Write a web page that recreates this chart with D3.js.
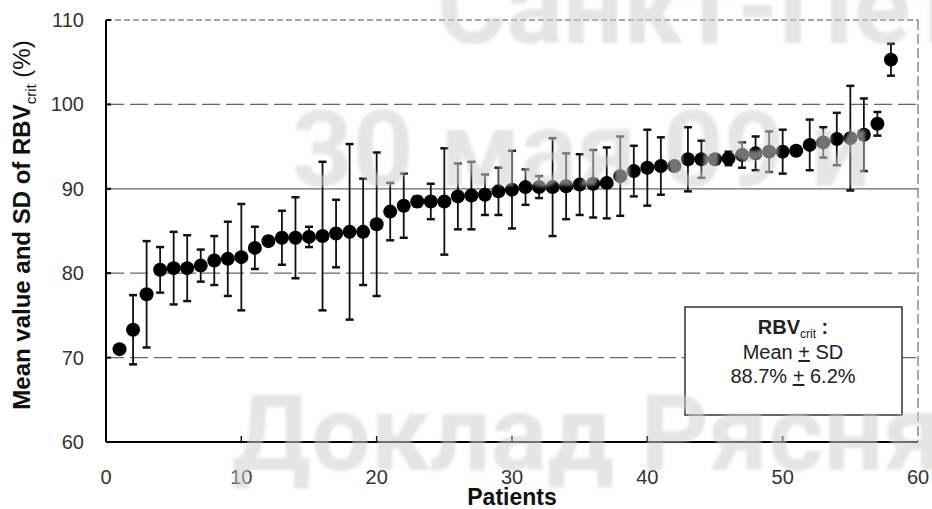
<!DOCTYPE html>
<html lang="en">
<head>
<meta charset="utf-8" />
<title>RBV crit per patient</title>
<script src="https://d3js.org/d3.v7.min.js"></script>
<style>
    body { margin: 0; background: #fff; }
    svg { display: block; }
</style>
</head>
<body>
<script>

    var w = 932;
    var h = 509;

    // mean and SD of RBVcrit (%) per patient, sorted by mean
    var patients = d3.range(1, 59);
    var means = [71.0, 73.3, 77.5, 80.4, 80.6, 80.6, 80.9, 81.5, 81.7, 81.9,
        83.0, 83.8, 84.2, 84.2, 84.3, 84.4, 84.7, 84.9, 84.9, 85.8,
        87.3, 88.0, 88.5, 88.5, 88.5, 89.1, 89.2, 89.3, 89.7, 89.9,
        90.2, 90.2, 90.2, 90.3, 90.5, 90.6, 90.7, 91.5, 92.1, 92.5,
        92.7, 92.7, 93.5, 93.5, 93.5, 93.6, 94.0, 94.2, 94.4, 94.4,
        94.5, 95.2, 95.5, 95.9, 96.0, 96.4, 97.7, 105.3];
    var sds = [0.3, 4.1, 6.3, 2.7, 4.3, 3.9, 1.9, 2.9, 4.4, 6.3,
        2.5, 0.5, 3.2, 4.8, 1.2, 8.8, 4.0, 10.4, 6.3, 8.5,
        3.4, 3.8, 0.6, 2.1, 6.3, 3.9, 4.0, 2.4, 2.8, 4.6,
        2.1, 1.3, 5.8, 3.9, 3.6, 4.0, 4.2, 4.7, 3.0, 4.5,
        3.4, 0.4, 3.8, 2.2, 0.4, 0.8, 1.5, 2.0, 2.4, 2.6,
        0.4, 3.0, 1.8, 3.1, 6.2, 4.3, 1.4, 1.9];

    var xTicks = [0, 10, 20, 30, 40, 50, 60];
    var yTicks = [60, 70, 80, 90, 100, 110];
    var gridValues = [70, 80, 90, 100];
    var legendLines = ["Mean ", "88.7% "];
    var watermark = ["Санкт-Петербург", "30 мая 09 и", "Доклад Рясня"];

    var data = patients.map(function (p, i) {
        return { p: p, m: means[i], sd: sds[i] };
    });

    var svg = d3.select("body")
        .append("svg")
        .attr("width", w)
        .attr("height", h);

    svg.append("defs")
        .append("filter")
        .attr("id", "soft")
        .append("feGaussianBlur")
        .attr("stdDeviation", 1.4);

    var xScale = d3.scaleLinear().domain([0, 60]).range([106, 918]);
    var yScale = d3.scaleLinear().domain([60, 110]).range([442, 20]);

    var font = "'Liberation Sans', Arial, sans-serif";

    // grid lines
    svg.selectAll("line.grid")
        .data(gridValues)
        .enter()
        .append("line")
        .attr("class", "grid")
        .attr("x1", xScale(0))
        .attr("x2", xScale(60))
        .attr("y1", function (d) { return yScale(d); })
        .attr("y2", function (d) { return yScale(d); })
        .attr("stroke", "#666")
        .attr("stroke-width", 1.3)
        .attr("stroke-dasharray", function (d) { return d == 90 ? null : "18,6"; });

    // top and right frame (light)
    svg.append("line")
        .attr("x1", xScale(0)).attr("x2", xScale(60))
        .attr("y1", yScale(110)).attr("y2", yScale(110))
        .attr("stroke", "#888").attr("stroke-width", 1.3)
        .attr("stroke-dasharray", "6,3");
    svg.append("line")
        .attr("x1", xScale(60)).attr("x2", xScale(60))
        .attr("y1", yScale(110)).attr("y2", yScale(60))
        .attr("stroke", "#777").attr("stroke-width", 1.3)
        .attr("stroke-dasharray", "10,4");

    // legend box
    var lx = 685, ly = 307;
    svg.append("rect")
        .attr("x", lx).attr("y", ly)
        .attr("width", 217).attr("height", 108)
        .attr("fill", "#fff")
        .attr("stroke", "#333")
        .attr("stroke-width", 1.5);

    var lt = svg.append("g")
        .attr("font-family", font)
        .attr("font-size", "20px")
        .attr("fill", "#222")
        .attr("text-anchor", "middle");

    var t1 = lt.append("text").attr("x", lx + 108).attr("y", ly + 27);
    t1.append("tspan").attr("font-weight", "bold").text("RBV");
    t1.append("tspan").attr("font-size", "12px").attr("dy", 4).text("crit");
    t1.append("tspan").attr("font-weight", "bold").attr("dy", -4).text(" :");

    var t2 = lt.append("text").attr("x", lx + 108).attr("y", ly + 52);
    t2.append("tspan").text(legendLines[0]);
    t2.append("tspan").attr("text-decoration", "underline").text("+");
    t2.append("tspan").text(" SD");

    var t3 = lt.append("text").attr("x", lx + 108).attr("y", ly + 76);
    t3.append("tspan").text(legendLines[1]);
    t3.append("tspan").attr("text-decoration", "underline").text("+");
    t3.append("tspan").text(" 6.2%");

    // error bars
    var bars = svg.selectAll("g.bar")
        .data(data)
        .enter()
        .append("g")
        .attr("class", "bar")
        .attr("stroke", "#111")
        .attr("stroke-width", 1.8);

    bars.append("line")
        .attr("x1", function (d) { return xScale(d.p); })
        .attr("x2", function (d) { return xScale(d.p); })
        .attr("y1", function (d) { return yScale(d.m + d.sd); })
        .attr("y2", function (d) { return yScale(d.m - d.sd); });

    bars.append("line")
        .attr("x1", function (d) { return xScale(d.p) - 4; })
        .attr("x2", function (d) { return xScale(d.p) + 4; })
        .attr("y1", function (d) { return yScale(d.m + d.sd); })
        .attr("y2", function (d) { return yScale(d.m + d.sd); })
        .attr("stroke-width", 2.5);

    bars.append("line")
        .attr("x1", function (d) { return xScale(d.p) - 4; })
        .attr("x2", function (d) { return xScale(d.p) + 4; })
        .attr("y1", function (d) { return yScale(d.m - d.sd); })
        .attr("y2", function (d) { return yScale(d.m - d.sd); })
        .attr("stroke-width", 2.5);

    svg.selectAll("circle")
        .data(data)
        .enter()
        .append("circle")
        .attr("cx", function (d) { return xScale(d.p); })
        .attr("cy", function (d) { return yScale(d.m); })
        .attr("r", 7)
        .attr("fill", "#000");

    // axes
    svg.append("line")
        .attr("x1", xScale(0)).attr("x2", xScale(0))
        .attr("y1", yScale(110)).attr("y2", yScale(60))
        .attr("stroke", "#000").attr("stroke-width", 2);
    svg.append("line")
        .attr("x1", xScale(0)).attr("x2", xScale(60))
        .attr("y1", yScale(60)).attr("y2", yScale(60))
        .attr("stroke", "#000").attr("stroke-width", 2);

    svg.selectAll("line.ytick")
        .data(yTicks)
        .enter()
        .append("line")
        .attr("class", "ytick")
        .attr("x1", xScale(0))
        .attr("x2", xScale(0) + 5)
        .attr("y1", function (d) { return yScale(d); })
        .attr("y2", function (d) { return yScale(d); })
        .attr("stroke", "#000")
        .attr("stroke-width", 2);

    svg.selectAll("line.xtick")
        .data(xTicks.slice(1, 6))
        .enter()
        .append("line")
        .attr("class", "xtick")
        .attr("x1", function (d) { return xScale(d); })
        .attr("x2", function (d) { return xScale(d); })
        .attr("y1", yScale(60))
        .attr("y2", yScale(60) - 6)
        .attr("stroke", "#000")
        .attr("stroke-width", 1.5);

    svg.selectAll("text.ylab")
        .data(yTicks)
        .enter()
        .append("text")
        .attr("class", "ylab")
        .attr("x", 84)
        .attr("y", function (d) { return yScale(d) + 7; })
        .attr("text-anchor", "end")
        .attr("font-family", font)
        .attr("font-size", "20px")
        .attr("fill", "#333")
        .text(function (d) { return d; });

    svg.selectAll("text.xlab")
        .data(xTicks)
        .enter()
        .append("text")
        .attr("class", "xlab")
        .attr("x", function (d) { return xScale(d); })
        .attr("y", 484)
        .attr("text-anchor", "middle")
        .attr("font-family", font)
        .attr("font-size", "20px")
        .attr("fill", "#333")
        .text(function (d) { return d; });

    svg.append("text")
        .attr("x", xScale(30))
        .attr("y", 505)
        .attr("text-anchor", "middle")
        .attr("font-family", font)
        .attr("font-size", "23px")
        .attr("font-weight", "bold")
        .attr("fill", "#111")
        .text("Patients");

    var yl = svg.append("text")
        .attr("transform", "translate(30,225) rotate(-90)")
        .attr("text-anchor", "middle")
        .attr("font-family", font)
        .attr("font-size", "24px")
        .attr("fill", "#111");
    yl.append("tspan").attr("font-weight", "bold").text("Mean value and SD of RBV");
    yl.append("tspan").attr("font-size", "15px").attr("dy", 6).text("crit");
    yl.append("tspan").attr("dy", -6).text(" (%)");

    // watermark laid over the figure
    var wm = svg.append("g")
        .attr("font-family", "Roboto, 'Open Sans', sans-serif")
        .attr("font-weight", "bold")
        .attr("font-size", "106px")
        .attr("fill", "#d0d0d0")
        .attr("fill-opacity", 0.55)
        .attr("filter", "url(#soft)");
    var wmPos = [[437, 43], [292, 186], [232, 470]];
    wm.selectAll("text")
        .data(watermark)
        .enter()
        .append("text")
        .attr("x", function (d, i) { return wmPos[i][0]; })
        .attr("y", function (d, i) { return wmPos[i][1]; })
        .text(function (d) { return d; });

</script>
</body>
</html>
